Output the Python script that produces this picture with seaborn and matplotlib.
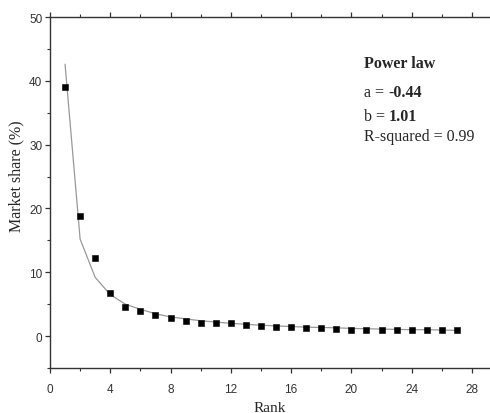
import matplotlib
matplotlib.use("Agg")
import matplotlib.pyplot as plt
import seaborn as sns
import pandas as pd
from matplotlib.ticker import MultipleLocator

rank = list(range(1, 28))
share = [39.0, 18.8, 12.2, 6.7, 4.6, 3.9, 3.3, 2.8, 2.4, 2.1, 2.1, 2.0, 1.8, 1.6,
         1.5, 1.4, 1.3, 1.2, 1.1, 1.0, 1.0, 1.0, 1.0, 1.0, 0.95, 0.95, 0.95]
fit = [42.6, 15.2, 9.2, 6.5, 5.0, 4.2, 3.5, 3.0, 2.7, 2.4, 2.2, 2.0, 1.85, 1.7,
       1.6, 1.5, 1.4, 1.35, 1.3, 1.2, 1.15, 1.1, 1.05, 1.0, 1.0, 0.95, 0.9]
x_ticks = [0, 4, 8, 12, 16, 20, 24, 28]
y_ticks = [0, 10, 20, 30, 40, 50]

df = pd.DataFrame({"Rank": rank, "Share": share, "Fit": fit})

sns.set_style("ticks")
plt.rcParams["font.family"] = ["Liberation Serif", "DejaVu Serif"]

fig = plt.figure(figsize=(4.9, 4.14), dpi=100)
ax = fig.add_axes([0.102, 0.1087, 0.898, 0.8478])

sns.lineplot(data=df, x="Rank", y="Fit", ax=ax, color="#999999", linewidth=0.9)
sns.scatterplot(data=df, x="Rank", y="Share", ax=ax, marker="s", color="black",
                s=24, edgecolor="black", linewidth=0.4, zorder=3)

ax.set_xlim(0, 29.2)
ax.set_ylim(-5, 50)
ax.set_xticks(x_ticks)
ax.set_yticks(y_ticks)
ax.xaxis.set_minor_locator(MultipleLocator(2))
ax.yaxis.set_minor_locator(MultipleLocator(5))

for s in ["left", "bottom", "top"]:
    ax.spines[s].set_color("#333333")
    ax.spines[s].set_linewidth(1.0)
ax.spines["right"].set_visible(False)

ax.tick_params(axis="both", which="major", direction="out", length=3.5, width=0.9,
               colors="#333333", labelsize=8.5)
ax.tick_params(axis="both", which="minor", direction="out", length=2, width=0.8,
               colors="#333333")
ax.tick_params(axis="x", which="major", pad=7)
ax.tick_params(axis="y", which="major", pad=2)
ax.tick_params(axis="x", top=True, which="both")
ax.tick_params(axis="x", which="both", labeltop=False)
for lab in ax.get_xticklabels() + ax.get_yticklabels():
    lab.set_family(["Liberation Sans", "DejaVu Sans"])
    lab.set_color("#333333")

ax.set_xlabel("Rank", fontsize=11)
ax.set_ylabel("Market share (%)", fontsize=11.5)
ax.xaxis.set_label_coords(0.5, -0.095)
ax.yaxis.set_label_coords(-0.058, 0.55)

fs = 11.5
x0 = 0.743
fig.text(x0, 0.836, "Power law", fontsize=fs, fontweight="bold", va="baseline")
t1 = fig.text(x0, 0.766, "a = ", fontsize=fs, va="baseline")
fig.canvas.draw()
ax.annotate("-0.44", xy=(1, 0), xycoords=t1, va="bottom", fontsize=fs,
            fontweight="bold")
t2 = fig.text(x0, 0.708, "b = ", fontsize=fs, va="baseline")
ax.annotate("1.01", xy=(1, 0), xycoords=t2, va="bottom", fontsize=fs,
            fontweight="bold")
fig.text(x0, 0.659, "R-squared = 0.99", fontsize=fs, va="baseline")

fig.savefig("out.png", dpi=100)
